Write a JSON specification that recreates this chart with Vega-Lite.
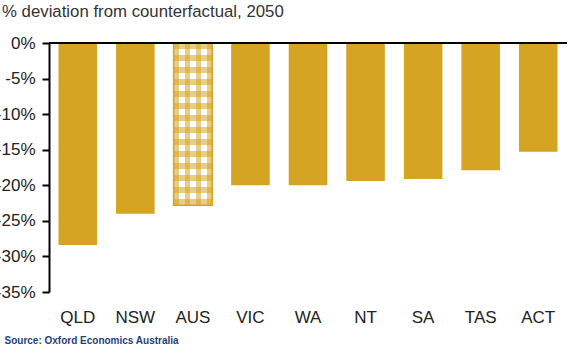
{
  "$schema": "https://vega.github.io/schema/vega-lite/v6.json",
  "autosize": {"type": "none"},
  "width": 518,
  "height": 249,
  "padding": {"left": 49, "top": 43, "right": 9, "bottom": 65},
  "background": "white",
  "config": {"view": {"stroke": null}, "font": "Liberation Sans"},
  "title": {
    "text": "% deviation from counterfactual, 2050",
    "anchor": "start",
    "frame": "group",
    "dx": -47,
    "offset": 13,
    "fontSize": 16.8,
    "fontWeight": "normal",
    "color": "#333333",
    "font": "Liberation Sans"
  },
  "data": {
    "values": [
      {"region": "QLD", "value": -28.4},
      {"region": "NSW", "value": -24.0},
      {"region": "AUS", "value": -22.8},
      {"region": "VIC", "value": -20.0},
      {"region": "WA", "value": -20.0},
      {"region": "NT", "value": -19.4},
      {"region": "SA", "value": -19.1},
      {"region": "TAS", "value": -17.9},
      {"region": "ACT", "value": -15.3}
    ]
  },
  "encoding": {
    "x": {
      "field": "region",
      "type": "nominal",
      "sort": ["QLD", "NSW", "AUS", "VIC", "WA", "NT", "SA", "TAS", "ACT"],
      "scale": {"paddingInner": 0.33, "paddingOuter": 0.165},
      "axis": {
        "orient": "bottom",
        "domain": false,
        "ticks": false,
        "labelAngle": 0,
        "labelPadding": 17,
        "labelFontSize": 17,
        "labelColor": "#222222",
        "labelFont": "Liberation Sans",
        "title": "Source: Oxford Economics Australia",
        "titleX": -45,
        "titleY": 48,
        "titleAlign": "left",
        "titleAnchor": null,
        "titleBaseline": "middle",
        "titleFontSize": 10,
        "titleFontWeight": "bold",
        "titleFont": "Liberation Sans Narrow, Liberation Sans",
        "titleColor": "#1F3F7A"
      }
    },
    "y": {
      "field": "value",
      "type": "quantitative",
      "scale": {"domain": [-35, 0], "nice": false},
      "axis": {
        "values": [0, -5, -10, -15, -20, -25, -30, -35],
        "labelExpr": "datum.value + '%'",
        "grid": false,
        "domainColor": "#000000",
        "domainWidth": 2,
        "tickColor": "#000000",
        "tickWidth": 2,
        "tickSize": 7,
        "labelPadding": 7,
        "labelFontSize": 17,
        "labelColor": "#222222",
        "labelFont": "Liberation Sans",
        "title": null
      }
    }
  },
  "layer": [
    {
      "transform": [{"filter": "datum.region !== 'AUS'"}],
      "mark": {"type": "bar", "color": "#D4A422"}
    },
    {
      "transform": [{"filter": "datum.region === 'AUS'"}],
      "mark": {"type": "bar", "fill": "#FFFFFF", "stroke": "#D4A422", "strokeWidth": 1.5}
    },
    {
      "transform": [{"filter": "datum.region === 'AUS'"}],
      "mark": {
        "type": "bar",
        "fill": {
          "gradient": "linear", "x1": 0, "y1": 0, "x2": 1, "y2": 0,
          "stops": [
            {"offset": 0, "color": "rgba(212,164,34,0.55)"},
            {"offset": 0.1429, "color": "rgba(212,164,34,0.55)"},
            {"offset": 0.1429, "color": "rgba(212,164,34,0)"},
            {"offset": 0.2857, "color": "rgba(212,164,34,0)"},
            {"offset": 0.2857, "color": "rgba(212,164,34,0.55)"},
            {"offset": 0.4286, "color": "rgba(212,164,34,0.55)"},
            {"offset": 0.4286, "color": "rgba(212,164,34,0)"},
            {"offset": 0.5714, "color": "rgba(212,164,34,0)"},
            {"offset": 0.5714, "color": "rgba(212,164,34,0.55)"},
            {"offset": 0.7143, "color": "rgba(212,164,34,0.55)"},
            {"offset": 0.7143, "color": "rgba(212,164,34,0)"},
            {"offset": 0.8571, "color": "rgba(212,164,34,0)"},
            {"offset": 0.8571, "color": "rgba(212,164,34,0.55)"},
            {"offset": 1, "color": "rgba(212,164,34,0.55)"}
          ]
        }
      }
    },
    {
      "transform": [{"filter": "datum.region === 'AUS'"}],
      "mark": {
        "type": "bar",
        "fill": {
          "gradient": "linear", "x1": 0, "y1": 0, "x2": 0, "y2": 1,
          "stops": [
            {"offset": 0, "color": "rgba(212,164,34,0.55)"},
            {"offset": 0.0370, "color": "rgba(212,164,34,0.55)"},
            {"offset": 0.0370, "color": "rgba(212,164,34,0)"},
            {"offset": 0.0741, "color": "rgba(212,164,34,0)"},
            {"offset": 0.0741, "color": "rgba(212,164,34,0.55)"},
            {"offset": 0.1111, "color": "rgba(212,164,34,0.55)"},
            {"offset": 0.1111, "color": "rgba(212,164,34,0)"},
            {"offset": 0.1481, "color": "rgba(212,164,34,0)"},
            {"offset": 0.1481, "color": "rgba(212,164,34,0.55)"},
            {"offset": 0.1852, "color": "rgba(212,164,34,0.55)"},
            {"offset": 0.1852, "color": "rgba(212,164,34,0)"},
            {"offset": 0.2222, "color": "rgba(212,164,34,0)"},
            {"offset": 0.2222, "color": "rgba(212,164,34,0.55)"},
            {"offset": 0.2593, "color": "rgba(212,164,34,0.55)"},
            {"offset": 0.2593, "color": "rgba(212,164,34,0)"},
            {"offset": 0.2963, "color": "rgba(212,164,34,0)"},
            {"offset": 0.2963, "color": "rgba(212,164,34,0.55)"},
            {"offset": 0.3333, "color": "rgba(212,164,34,0.55)"},
            {"offset": 0.3333, "color": "rgba(212,164,34,0)"},
            {"offset": 0.3704, "color": "rgba(212,164,34,0)"},
            {"offset": 0.3704, "color": "rgba(212,164,34,0.55)"},
            {"offset": 0.4074, "color": "rgba(212,164,34,0.55)"},
            {"offset": 0.4074, "color": "rgba(212,164,34,0)"},
            {"offset": 0.4444, "color": "rgba(212,164,34,0)"},
            {"offset": 0.4444, "color": "rgba(212,164,34,0.55)"},
            {"offset": 0.4815, "color": "rgba(212,164,34,0.55)"},
            {"offset": 0.4815, "color": "rgba(212,164,34,0)"},
            {"offset": 0.5185, "color": "rgba(212,164,34,0)"},
            {"offset": 0.5185, "color": "rgba(212,164,34,0.55)"},
            {"offset": 0.5556, "color": "rgba(212,164,34,0.55)"},
            {"offset": 0.5556, "color": "rgba(212,164,34,0)"},
            {"offset": 0.5926, "color": "rgba(212,164,34,0)"},
            {"offset": 0.5926, "color": "rgba(212,164,34,0.55)"},
            {"offset": 0.6296, "color": "rgba(212,164,34,0.55)"},
            {"offset": 0.6296, "color": "rgba(212,164,34,0)"},
            {"offset": 0.6667, "color": "rgba(212,164,34,0)"},
            {"offset": 0.6667, "color": "rgba(212,164,34,0.55)"},
            {"offset": 0.7037, "color": "rgba(212,164,34,0.55)"},
            {"offset": 0.7037, "color": "rgba(212,164,34,0)"},
            {"offset": 0.7407, "color": "rgba(212,164,34,0)"},
            {"offset": 0.7407, "color": "rgba(212,164,34,0.55)"},
            {"offset": 0.7778, "color": "rgba(212,164,34,0.55)"},
            {"offset": 0.7778, "color": "rgba(212,164,34,0)"},
            {"offset": 0.8148, "color": "rgba(212,164,34,0)"},
            {"offset": 0.8148, "color": "rgba(212,164,34,0.55)"},
            {"offset": 0.8519, "color": "rgba(212,164,34,0.55)"},
            {"offset": 0.8519, "color": "rgba(212,164,34,0)"},
            {"offset": 0.8889, "color": "rgba(212,164,34,0)"},
            {"offset": 0.8889, "color": "rgba(212,164,34,0.55)"},
            {"offset": 0.9259, "color": "rgba(212,164,34,0.55)"},
            {"offset": 0.9259, "color": "rgba(212,164,34,0)"},
            {"offset": 0.9630, "color": "rgba(212,164,34,0)"},
            {"offset": 0.9630, "color": "rgba(212,164,34,0.55)"},
            {"offset": 1, "color": "rgba(212,164,34,0.55)"}
          ]
        }
      }
    },
    {
      "mark": {"type": "rule", "color": "#000000", "strokeWidth": 2},
      "encoding": {
        "x": {"value": 0},
        "x2": {"value": 518},
        "y": {"datum": 0}
      }
    }
  ]
}
